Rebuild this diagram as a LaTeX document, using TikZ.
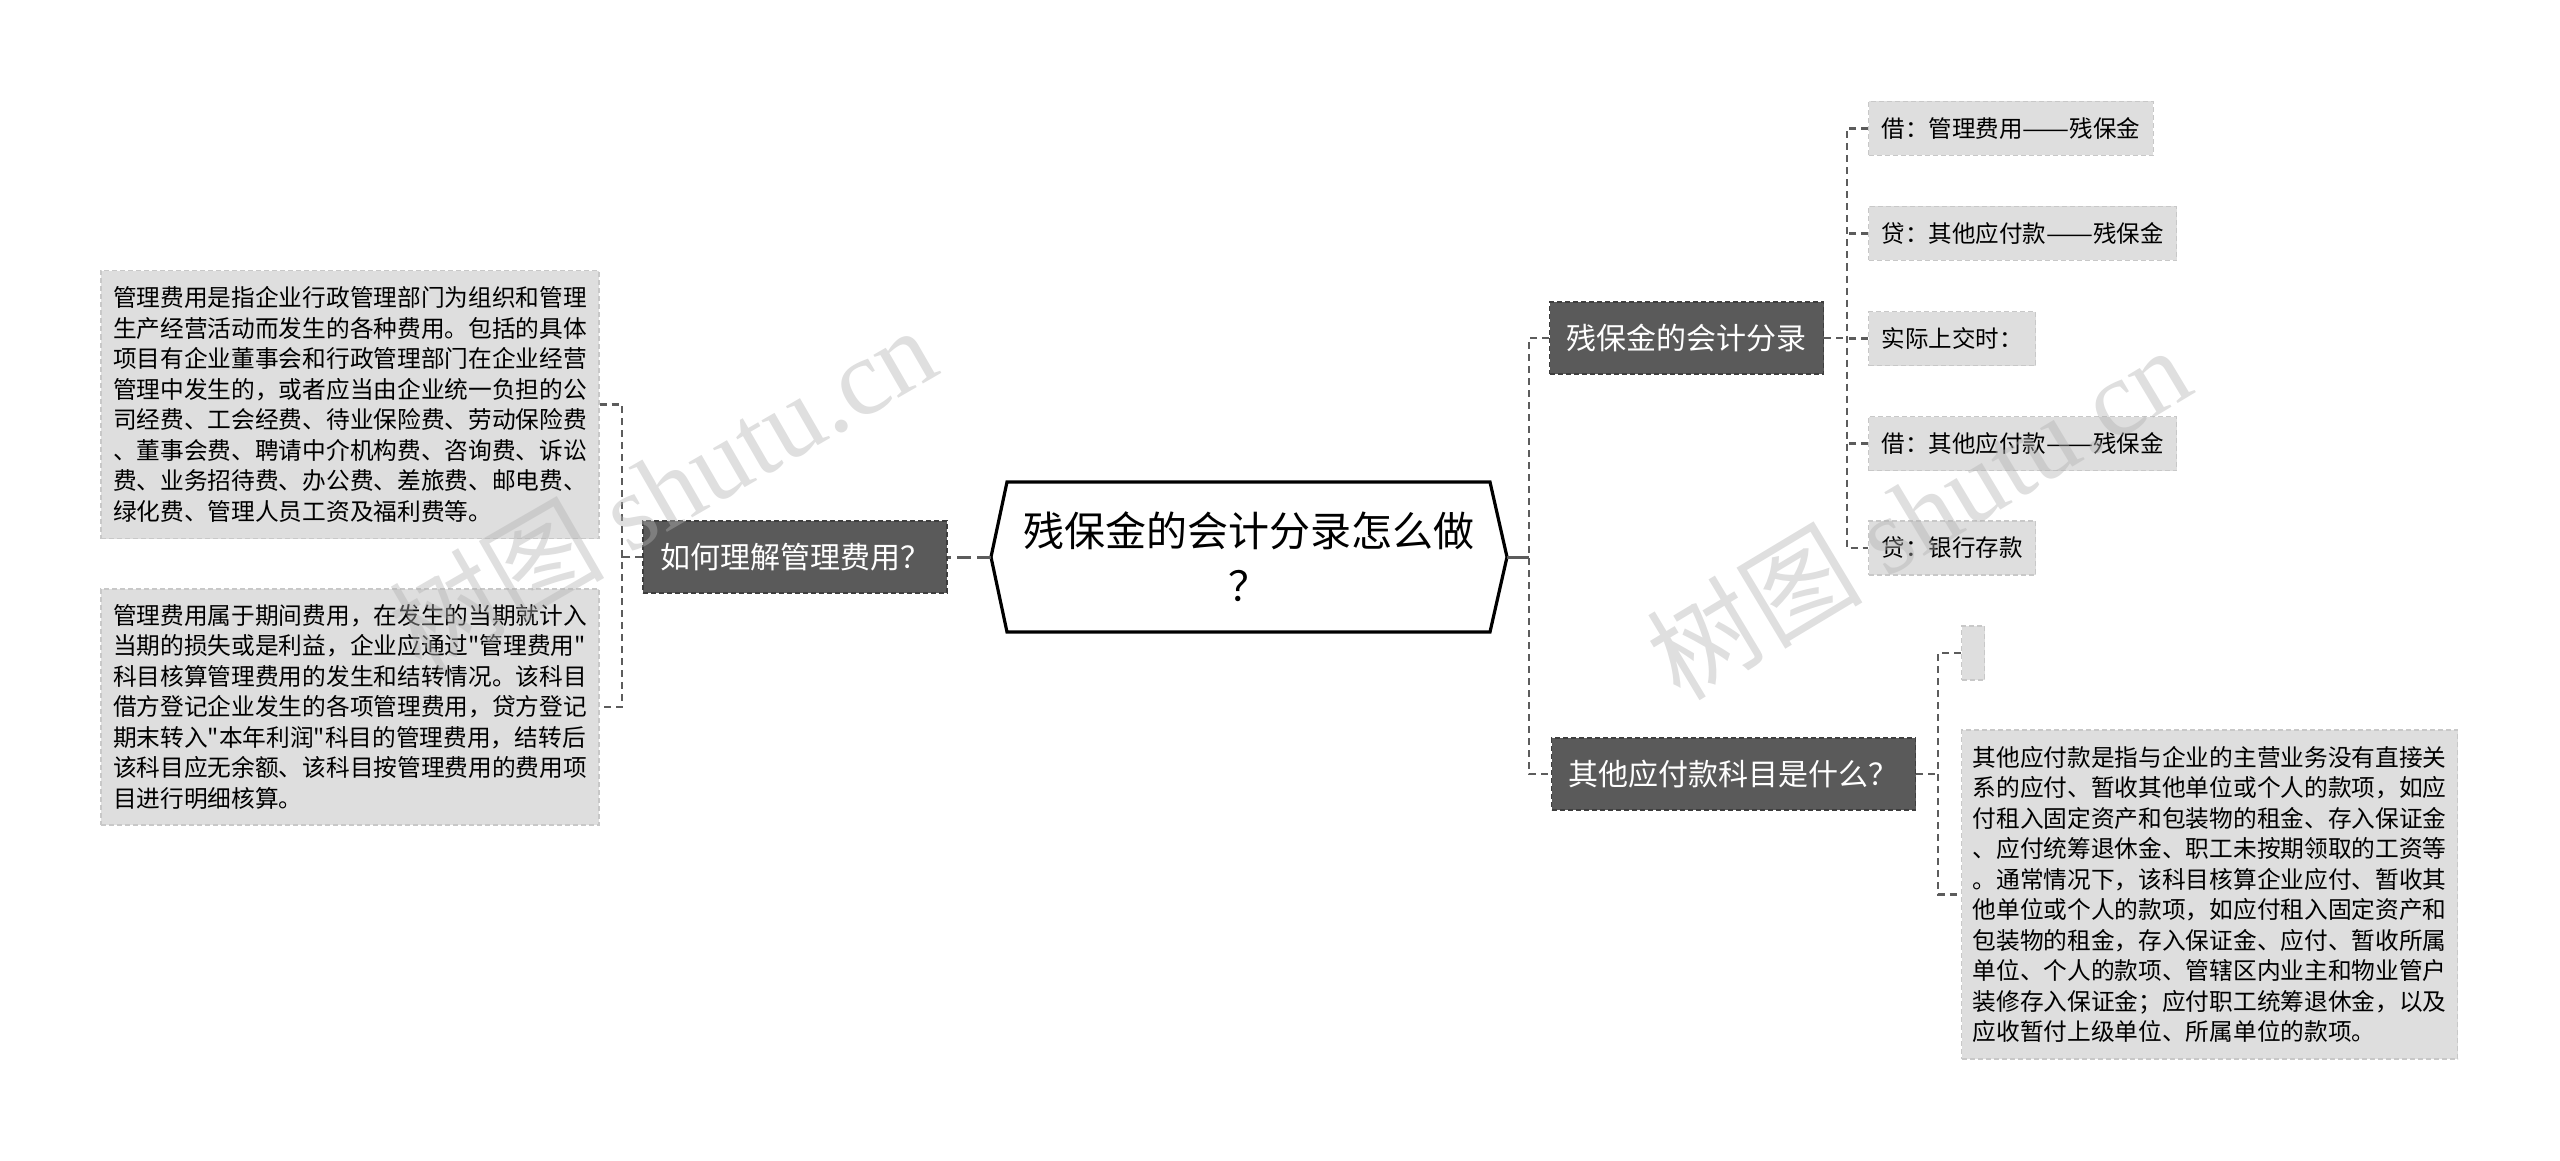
\documentclass[tikz,border=0pt]{standalone}
\usepackage{fontspec}
\newfontfamily\cjk{Noto Sans CJK SC}
\newfontfamily\wmserif{Liberation Serif}
\definecolor{darkbox}{HTML}{5A5A5A}
\definecolor{darkedge}{HTML}{3E3E3E}
\definecolor{leaffill}{HTML}{DEDEDE}
\definecolor{leafedge}{HTML}{C8C8C8}
\definecolor{linec}{HTML}{5C5C5C}
\newcommand{\dd}{\resizebox{2em}{\height}{——}}
\begin{document}
\begin{tikzpicture}[x=1pt,y=-1pt,
  topic/.style={fill=darkbox, draw=darkedge, dash pattern=on 5pt off 3pt, line width=1.2pt,
    text=white, font=\cjk\fontsize{30}{36}\selectfont, inner xsep=17pt, inner ysep=0pt,
    minimum height=72pt},
  leafbox/.style={fill=leaffill, draw=leafedge, dash pattern=on 5pt off 3pt, line width=1.2pt,
    text=black, inner ysep=0pt},
  smallleaf/.style={leafbox, font=\cjk\fontsize{23.5}{28}\selectfont, inner xsep=13pt,
    minimum height=54pt, anchor=west},
  bigleaf/.style={leafbox, font=\cjk\fontsize{23.7}{30.5}\selectfont, inner xsep=12pt,
    text width=474pt, align=left},
  conn/.style={draw=linec, line width=2.4pt, dash pattern=on 7pt off 5pt},
  wm/.style={text=gray!60, opacity=0.42, font=\fontsize{108}{118}\selectfont, inner sep=0pt}
]
\useasboundingbox (0,0) rectangle (2560,1161);

% central node
\node[inner sep=0pt, minimum width=516pt, minimum height=150pt,
  font=\cjk\fontsize{41}{55}\selectfont, align=center] (root) at (1249,557)
  {残保金的会计分录怎么做\\？};
\draw[line width=3.2pt, line join=miter, black]
  (991,557) -- (1007,482) -- (1490,482) -- (1507,557) -- (1490,632) -- (1007,632) -- cycle;

% left side
\node[topic] (m) at (795,557) {如何理解管理费用？};
\node[bigleaf, minimum height=268pt] (k1) at (350,404.5)
  {管理费用是指企业行政管理部门为组织和管理\\
   生产经营活动而发生的各种费用。包括的具体\\
   项目有企业董事会和行政管理部门在企业经营\\
   管理中发生的，或者应当由企业统一负担的公\\
   司经费、工会经费、待业保险费、劳动保险费\\
   、董事会费、聘请中介机构费、咨询费、诉讼\\
   费、业务招待费、办公费、差旅费、邮电费、\\
   绿化费、管理人员工资及福利费等。};
\node[bigleaf, minimum height=236pt] (k2) at (350,707)
  {管理费用属于期间费用，在发生的当期就计入\\
   当期的损失或是利益，企业应通过"管理费用"\\
   科目核算管理费用的发生和结转情况。该科目\\
   借方登记企业发生的各项管理费用，贷方登记\\
   期末转入"本年利润"科目的管理费用，结转后\\
   该科目应无余额、该科目按管理费用的费用项\\
   目进行明细核算。};

% right side topics
\node[topic, anchor=west] (n1) at (1549,338) {残保金的会计分录};
\node[topic, anchor=west] (n2) at (1551,774) {其他应付款科目是什么？};

% right leaves of n1
\node[smallleaf] (l1) at (1868,128.5) {借：管理费用\dd 残保金};
\node[smallleaf] (l2) at (1868,233.5) {贷：其他应付款\dd 残保金};
\node[smallleaf] (l3) at (1868,338.5) {实际上交时：};
\node[smallleaf] (l4) at (1868,443.5) {借：其他应付款\dd 残保金};
\node[smallleaf] (l5) at (1868,548) {贷：银行存款};

% leaves of n2
\node[leafbox, minimum width=23pt, minimum height=54pt, inner sep=0pt, anchor=west] (s0) at (1961,653) {};
\node[bigleaf, anchor=west, inner xsep=11pt, minimum height=329pt] (s1) at (1961,894.5)
  {其他应付款是指与企业的主营业务没有直接关\\
   系的应付、暂收其他单位或个人的款项，如应\\
   付租入固定资产和包装物的租金、存入保证金\\
   、应付统筹退休金、职工未按期领取的工资等\\
   。通常情况下，该科目核算企业应付、暂收其\\
   他单位或个人的款项，如应付租入固定资产和\\
   包装物的租金，存入保证金、应付、暂收所属\\
   单位、个人的款项、管辖区内业主和物业管户\\
   装修存入保证金；应付职工统筹退休金，以及\\
   应收暂付上级单位、所属单位的款项。};

% junction coordinates
\coordinate (rt) at (1529,557);
\coordinate (b1) at (1847,338);
\coordinate (b2) at (1938,774);
\coordinate (b0) at (622,557);

% connectors
\draw[draw=linec, line width=3pt] (root.east) -- (rt);
\draw[conn] (n1.west) -| (rt) |- (n2.west);
\draw[conn] (n1.east) -- (b1);
\draw[conn] (l1.west) -| (b1) |- (l5.west);
\draw[conn] (l2.west) -- (l2.west -| b1);
\draw[conn] (l3.west) -- (l3.west -| b1);
\draw[conn] (l4.west) -- (l4.west -| b1);
\draw[conn] (n2.east) -- (b2);
\draw[conn] (s0.west) -| (b2) |- (s1.west);

\draw[draw=linec, line width=3pt, dash pattern=on 14pt off 6pt] (root.west) -- (m.east);
\draw[conn] (m.west) -- (b0);
\draw[conn] (k1.east) -| (b0) |- (k2.east);

% watermarks
\node[wm, rotate=30] (w1) at (662,488) {\cjk 树图 \wmserif shutu.cn};
\node[wm, rotate=31] (w2) at (1918,512) {\cjk 树图 \wmserif shutu.cn};
\end{tikzpicture}
\end{document}
